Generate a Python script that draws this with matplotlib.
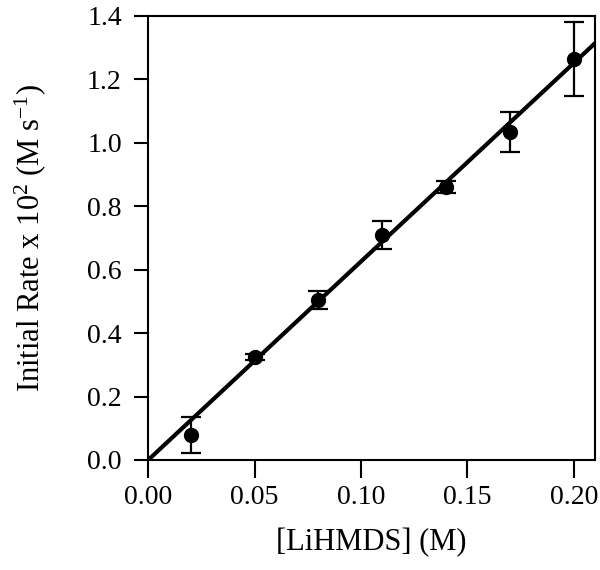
import numpy as np
import matplotlib
matplotlib.use("Agg")
import matplotlib.pyplot as plt

plt.rcParams['font.family'] = ['Liberation Serif', 'DejaVu Serif']
plt.rcParams['mathtext.fontset'] = 'custom'
plt.rcParams['mathtext.rm'] = 'Liberation Serif'
plt.rcParams['mathtext.it'] = 'Liberation Serif:italic'

# data
conc = [0.02, 0.05, 0.08, 0.11, 0.14, 0.17, 0.20]
rate = [0.079, 0.325, 0.505, 0.71, 0.861, 1.035, 1.265]
rate_err = [0.058, 0.01, 0.028, 0.044, 0.019, 0.063, 0.117]

# linear fit through origin
slope = 6.26
fit_x = np.array([0.0, 0.21])

fig = plt.figure(figsize=(6, 5.7), dpi=100)
ax = fig.add_axes([0.247, 0.193, 0.745, 0.779])

ax.plot(fit_x, slope * fit_x, color='black', lw=3, solid_capstyle='butt', zorder=2)
ax.errorbar(conc, rate, yerr=rate_err, fmt='o', color='black', ms=10,
            elinewidth=1.6, capsize=7, capthick=1.6, zorder=3)

ax.set_xlim(0, 0.21)
ax.set_ylim(0, 1.4)
ax.set_xticks([0.00, 0.05, 0.10, 0.15, 0.20])
ax.set_xticklabels(['0.00', '0.05', '0.10', '0.15', '0.20'])
ax.set_yticks(np.arange(0, 1.41, 0.2))
ax.set_yticklabels([f'{v:.1f}' for v in np.arange(0, 1.41, 0.2)])

for s in ax.spines.values():
    s.set_linewidth(1.5)
ax.tick_params(axis='x', direction='out', length=13, width=1.5, labelsize=20, pad=5)
ax.tick_params(axis='y', direction='out', length=10, width=1.5, labelsize=20, pad=9)

ax.set_xlabel('[LiHMDS] (M)', fontsize=22, labelpad=13)
ax.set_ylabel(r'Initial Rate x 10$^2$ (M s$^{-1}$)', fontsize=22, labelpad=28)

fig.savefig('out.png', dpi=100)
